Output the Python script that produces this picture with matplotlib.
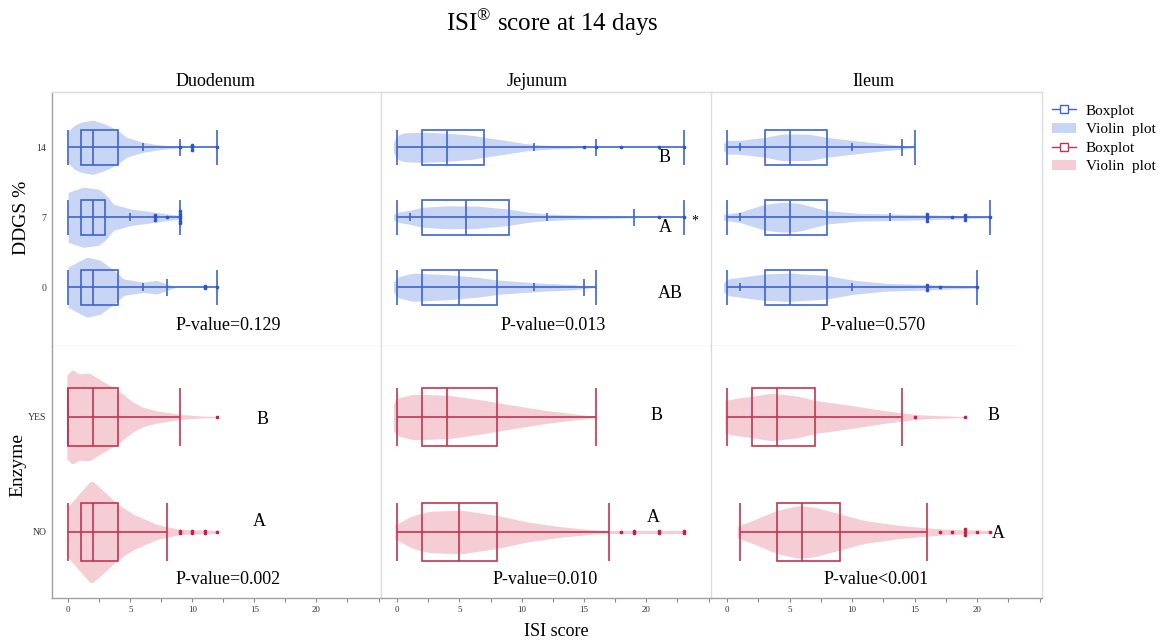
import numpy as np
import matplotlib
matplotlib.use("Agg")
import matplotlib.pyplot as plt
from matplotlib.lines import Line2D
from matplotlib.patches import Patch, Rectangle

plt.rcParams['font.family'] = ['Liberation Serif', 'DejaVu Serif']
plt.rcParams['mathtext.fontset'] = 'custom'
plt.rcParams['mathtext.rm'] = 'Liberation Serif'

segments = ['Duodenum', 'Jejunum', 'Ileum']
ddgs_levels = ['0', '7', '14']
enzyme_levels = ['NO', 'YES']

# box stats: (low cap, q1, median, q3, high cap), order follows the levels
ddgs_box = {
    'Duodenum': [(0, 1, 2, 4, 12), (0, 1, 2, 3, 9), (0, 1, 2, 4, 12)],
    'Jejunum': [(0, 2, 5, 8, 16), (0, 2, 5.5, 9, 23), (0, 2, 4, 7, 23)],
    'Ileum': [(0, 3, 5, 8, 20), (0, 3, 5, 8, 21), (0, 3, 5, 8, 15)],
}
ddgs_short = {
    'Duodenum': [[6], [5], [6]],
    'Jejunum': [[11], [1, 12], [11]],
    'Ileum': [[1, 10], [1, 13], [1, 10]],
}
ddgs_mid = {
    'Duodenum': [[8], [], [9]],
    'Jejunum': [[15], [19], [16]],
    'Ileum': [[], [], [14]],
}
ddgs_out = {
    'Duodenum': [[11, 11, 12], [7, 7, 7, 8, 9, 9, 9, 9, 9, 9], [9, 10, 10, 10, 12]],
    'Jejunum': [[], [21, 23], [15, 16, 18, 21, 23]],
    'Ileum': [[16, 16, 16, 17, 20], [16, 16, 16, 16, 18, 19, 19, 19, 21], []],
}
# violin outline: score positions and relative density
ddgs_vx = {
    'Duodenum': [[0, 1.5, 2.6, 3.65, 4.5, 6.1, 7.15, 8, 8.6],
                 [0, 1.2, 2.5, 3.1, 3.65, 5.1, 7, 8, 9],
                 [0, 0.5, 1, 2, 3, 4, 4.7, 6, 7, 8, 9]],
    'Jejunum': [[-0.3, -0.1, 1.25, 3.9, 6.5, 8, 9.7, 11.8, 14, 15.5, 16],
                [-0.3, 0, 1, 2, 3.9, 6.5, 9, 10.5, 12, 14.5, 17, 19],
                [-0.3, -0.1, 0.5, 2, 4, 6, 7, 8.7, 10.3, 11.8, 14, 15.5]],
    'Ileum': [[-0.3, -0.1, 1, 3, 5, 8, 10, 12.7, 16, 20],
              [-0.3, 1, 3, 4.4, 5.7, 8, 10.5, 13, 16, 18, 21],
              [-0.3, -0.1, 1, 3, 4.4, 6.5, 8, 10, 12.7, 14, 15]],
}
ddgs_vd = {
    'Duodenum': [[0.67, 1.0, 0.9, 0.57, 0.27, 0.17, 0.23, 0.1, 0.02],
                 [0.83, 1.0, 0.93, 0.72, 0.43, 0.27, 0.17, 0.11, 0.06],
                 [0.53, 0.73, 0.83, 0.9, 0.77, 0.56, 0.33, 0.17, 0.1, 0.05, 0.02]],
    'Jejunum': [[0.1, 0.33, 0.47, 0.42, 0.33, 0.24, 0.19, 0.13, 0.09, 0.03, 0.01],
                [0.07, 0.17, 0.23, 0.33, 0.38, 0.37, 0.27, 0.17, 0.11, 0.07, 0.04, 0.02],
                [0.1, 0.37, 0.48, 0.5, 0.47, 0.4, 0.33, 0.23, 0.12, 0.07, 0.03, 0.01]],
    'Ileum': [[0.1, 0.27, 0.33, 0.44, 0.47, 0.39, 0.24, 0.13, 0.09, 0.03],
              [0.1, 0.17, 0.43, 0.5, 0.47, 0.22, 0.13, 0.11, 0.08, 0.06, 0.02],
              [0.07, 0.23, 0.23, 0.33, 0.44, 0.44, 0.33, 0.23, 0.11, 0.06, 0.01]],
}

enzyme_box = {
    'Duodenum': [(0, 1, 2, 4, 8), (0, 0, 2, 4, 9)],
    'Jejunum': [(0, 2, 5, 8, 17), (0, 2, 4, 8, 16)],
    'Ileum': [(1, 4, 6, 9, 16), (0, 2, 4, 7, 14)],
}
enzyme_out = {
    'Duodenum': [[9, 9, 10, 10, 11, 11, 12], [12]],
    'Jejunum': [[18, 19, 19, 21, 21, 23, 23], []],
    'Ileum': [[17, 18, 19, 19, 19, 20, 21], [15, 19]],
}
enzyme_vx = {
    'Duodenum': [[-0.05, 1, 1.85, 2.5, 4, 5.2, 7.1, 8, 9, 12],
                 [-0.1, 0.3, 0.9, 1.7, 2.5, 4, 5.2, 6, 7.1, 9, 10.6, 12]],
    'Jejunum': [[-0.2, 1.25, 2.6, 5.2, 8, 10.5, 13.2, 15.8, 17, 23],
                [-0.3, -0.2, 1.25, 4.1, 7, 9.2, 11.8, 14.5, 16]],
    'Ileum': [[0.8, 1, 2, 4, 5.7, 7, 9, 11, 13.7, 16, 17.7, 21],
              [-0.2, 1, 2, 3.5, 5.7, 7, 9.7, 12.4, 14, 15, 16.4, 19]],
}
enzyme_vd = {
    'Duodenum': [[0.48, 0.77, 1.0, 0.87, 0.54, 0.35, 0.15, 0.1, 0.05, 0.03],
                 [0.8, 0.92, 0.83, 0.85, 0.73, 0.52, 0.29, 0.19, 0.12, 0.05, 0.02, 0.01]],
    'Jejunum': [[0.13, 0.32, 0.4, 0.42, 0.32, 0.19, 0.1, 0.04, 0.03, 0.03],
                [0.2, 0.35, 0.44, 0.42, 0.32, 0.23, 0.13, 0.05, 0.01]],
    'Ileum': [[0.1, 0.13, 0.22, 0.42, 0.51, 0.48, 0.35, 0.22, 0.13, 0.08, 0.05, 0.03],
              [0.32, 0.37, 0.4, 0.46, 0.4, 0.32, 0.23, 0.13, 0.08, 0.05, 0.03, 0.01]],
}

ddgs_p = ['P-value=0.129', 'P-value=0.013', 'P-value=0.570']
enzyme_p = ['P-value=0.002', 'P-value=0.010', 'P-value<0.001']

BLUE, BLUE_FILL, BLUE_DOT = '#3c64d2', '#c9d5f5', '#2a52d8'
RED, RED_FILL, RED_DOT = '#c23552', '#f5cdd4', '#d01848'
OUTER, INNER = '#a0a0a0', '#dcdcdc'

W, H = 1160, 642


def px(x, y):
    return x / W, 1 - y / H


def draw_group(ax, y, box, short, mid, out, vx, vd, c_line, c_fill, c_dot, vscale, step):
    vx = np.array(vx, float)
    vd = np.array(vd, float)
    # smooth the outline a little so it is not angular
    xs = np.linspace(vx[0], vx[-1], 300)
    ds = np.interp(xs, vx, vd)
    k = np.ones(9) / 9
    ds = np.convolve(np.pad(ds, 4, mode='edge'), k, mode='valid')
    ax.fill_between(xs, y - ds * vscale, y + ds * vscale, color=c_fill, lw=0, zorder=1)

    lo, q1, med, q3, hi = box
    h = 0.25
    kw = dict(color=c_line, lw=1.2, zorder=3, solid_capstyle='butt')
    ax.plot([lo, hi], [y, y], **kw)
    ax.plot([lo, lo], [y - h, y + h], **kw)
    ax.plot([hi, hi], [y - h, y + h], **kw)
    ax.plot([med, med], [y - h, y + h], **kw)
    ax.add_patch(Rectangle((q1, y - h), q3 - q1, 2 * h, fill=False,
                           ec=c_line, lw=1.2, zorder=3))
    for s in short:
        ax.plot([s, s], [y - 0.06, y + 0.06], **kw)
    for m in mid:
        ax.plot([m, m], [y - 0.12, y + 0.12], **kw)
    if out:
        vals, cnts = np.unique(out, return_counts=True)
        for v, c in zip(vals, cnts):
            offs = (np.arange(c) - (c - 1) / 2) * step
            ax.scatter([v] * c, y + offs, s=7, color=c_dot, lw=0, zorder=4)


fig = plt.figure(figsize=(11.6, 6.42), dpi=100)
gs = fig.add_gridspec(2, 3, left=52 / W, right=1042 / W, top=1 - 92 / H,
                      bottom=1 - 598 / H, hspace=0, wspace=0,
                      height_ratios=[254, 252], width_ratios=[329, 330, 331])

for j, seg in enumerate(segments):
    ax_t = fig.add_subplot(gs[0, j])
    ax_b = fig.add_subplot(gs[1, j])

    for i in range(3):
        draw_group(ax_t, i, ddgs_box[seg][i], ddgs_short[seg][i], ddgs_mid[seg][i],
                   ddgs_out[seg][i], ddgs_vx[seg][i], ddgs_vd[seg][i],
                   BLUE, BLUE_FILL, BLUE_DOT, 0.43, 0.035)
    for i in range(2):
        draw_group(ax_b, i, enzyme_box[seg][i], [], [], enzyme_out[seg][i],
                   enzyme_vx[seg][i], enzyme_vd[seg][i],
                   RED, RED_FILL, RED_DOT, 0.45, 0.022)

    ax_t.set_xlim(-1.3, 25.2)
    ax_b.set_xlim(-1.3, 25.2)
    ax_t.set_ylim(-0.84, 2.79)
    ax_b.set_ylim(-0.574, 1.617)

    # frame lines
    for ax in (ax_t, ax_b):
        for sp in ax.spines.values():
            sp.set_color(INNER)
            sp.set_linewidth(1.0)
        ax.spines['right'].set_visible(j == 2)
        ax.spines['left'].set_color(OUTER if j == 0 else INNER)
    ax_b.spines['top'].set_visible(False)
    ax_b.spines['bottom'].set_color(OUTER)
    if j == 2:
        ax_t.spines['bottom'].set_visible(False)
        ax_t.plot([0, 0.927], [0, 0], transform=ax_t.transAxes, color=INNER,
                  lw=1.0, clip_on=False)

    ax_t.set_xticks([])
    ticks = np.arange(0, 25.1, 2.5)
    ax_b.set_xticks(ticks)
    ax_b.set_xticklabels([f'{t:g}' if t % 5 == 0 and t < 25 else '' for t in ticks])
    ax_b.tick_params(axis='x', length=3, width=0.8, color='#888888', labelsize=6.5,
                     labelcolor='#333333', pad=3)
    if j == 0:
        ax_t.set_yticks(range(3), ddgs_levels)
        ax_b.set_yticks(range(2), enzyme_levels)
        for ax in (ax_t, ax_b):
            ax.tick_params(axis='y', length=0, labelsize=7, labelcolor='#333333', pad=4)
    else:
        ax_t.set_yticks([])
        ax_b.set_yticks([])

# column headers
for name, xc in zip(segments, [216, 537, 873]):
    fig.text(*px(xc, 82), name, ha='center', va='center', fontsize=13)

# p-values
for txt, xc in zip(ddgs_p, [228, 553, 873]):
    fig.text(*px(xc, 325), txt, ha='center', va='center', fontsize=13)
for txt, xc in zip(enzyme_p, [228, 545, 876]):
    fig.text(*px(xc, 580), txt, ha='center', va='center', fontsize=13)

# letters of the mean comparisons
letters = [('B', 665, 158), ('A', 665, 228), ('AB', 670, 293),
           ('B', 263, 420), ('A', 259, 522), ('B', 657, 415), ('A', 653, 517),
           ('B', 994, 416), ('A', 998, 533)]
for t, x, y in letters:
    fig.text(*px(x, y), t, ha='center', va='center', fontsize=13)
fig.text(*px(695, 221), '*', ha='center', va='center', fontsize=10)

fig.text(*px(552, 23), 'ISI$^{\\mathrm{®}}$ score at 14 days', ha='center', va='center',
         fontsize=18)
fig.text(*px(22, 218), 'DDGS %', rotation=90, ha='center', va='center', fontsize=14)
fig.text(*px(18, 465), 'Enzyme', rotation=90, ha='center', va='center', fontsize=14)
fig.text(*px(556, 631), 'ISI score', ha='center', va='center', fontsize=13)

handles = [
    Line2D([], [], color=BLUE, lw=1, marker='s', markersize=6, markerfacecolor='white',
           markeredgecolor=BLUE),
    Patch(facecolor=BLUE_FILL, edgecolor='none'),
    Line2D([], [], color=RED, lw=1, marker='s', markersize=6, markerfacecolor='white',
           markeredgecolor=RED),
    Patch(facecolor=RED_FILL, edgecolor='none'),
]
fig.legend(handles, ['Boxplot', 'Violin  plot', 'Boxplot', 'Violin  plot'],
           loc='upper left', bbox_to_anchor=px(1052, 104), frameon=False,
           fontsize=11, handlelength=1.6, handletextpad=0.6, labelspacing=0.32,
           borderaxespad=0, borderpad=0)

fig.savefig('out.png', dpi=100)
